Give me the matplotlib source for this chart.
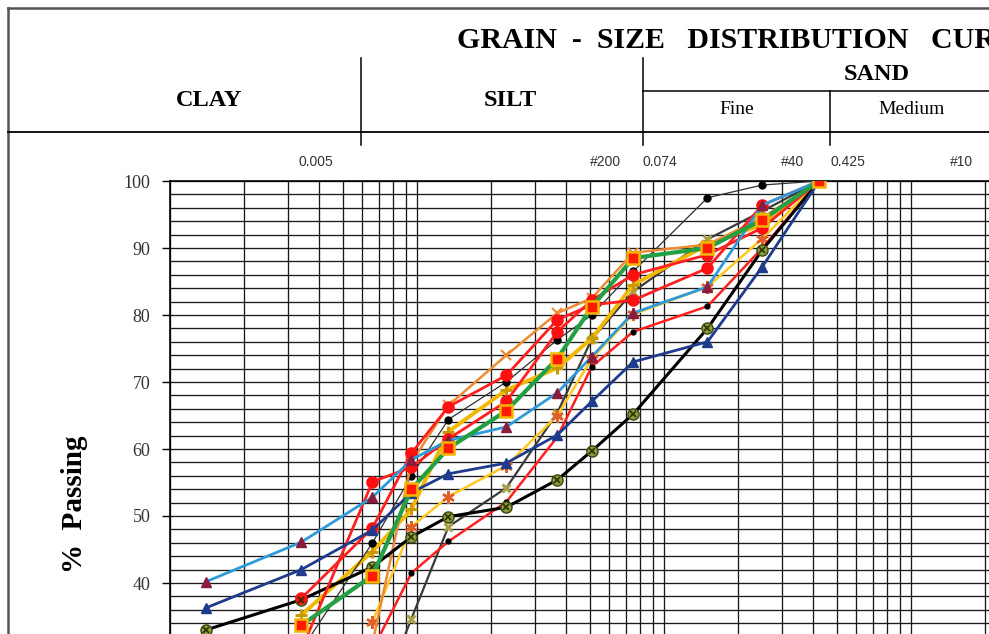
import numpy as np
import matplotlib.pyplot as plt
from matplotlib.ticker import MultipleLocator, LogLocator, NullFormatter
from matplotlib.lines import Line2D

# grain diameters (mm): hydrometer readings then sieves #200, #100, #60, #40
diam = [0.0014, 0.0034, 0.0066, 0.0095, 0.0134, 0.023, 0.037, 0.051, 0.075, 0.15, 0.25, 0.425]
nan = np.nan

# % passing for each sample (nan = no reading / off the chart)
pct_s1 = [40.2, 46.1, 52.8, 58.4, 61.3, 63.3, 68.4, 73.8, 80.3, 84.2, 96.4, 100]
pct_s2 = [36.3, 42.0, 47.9, 53.5, 56.3, 57.9, 62.1, 67.1, 73.0, 76.0, 87.2, 100]
pct_s3 = [33.0, 37.5, 42.4, 46.9, 49.9, 51.3, 55.4, 59.7, 65.2, 78.0, 89.7, 100]
pct_s4 = [nan, 33.7, 41.1, 54.0, 60.1, 65.7, 73.5, 81.2, 88.5, 90.0, 94.2, 100]
pct_s5 = [nan, nan, 31.0, 58.0, 66.5, 74.0, 80.3, 82.5, 89.3, 90.5, 94.5, 100]
pct_s6 = [nan, 37.7, 48.2, 59.4, 66.3, 71.0, 79.3, 81.5, 82.2, 87.0, 96.4, 100]
pct_s7 = [nan, 30.0, 55.1, 57.3, 61.5, 67.1, 77.5, 82.2, 86.0, 89.0, 93.0, 100]
pct_s8 = [nan, nan, 30.0, 41.5, 46.2, 52.1, 61.8, 72.3, 77.5, 81.3, 90.0, 100]
pct_s9 = [nan, 30.0, 46.0, 56.0, 64.4, 70.0, 76.3, 80.0, 86.5, 97.5, 99.4, 100]
pct_s10 = [nan, 35.2, 44.7, 51.0, 62.6, 68.8, 72.1, 76.5, 84.5, 90.5, 93.5, 100]
pct_s11 = [nan, nan, 34.2, 48.4, 52.9, 57.5, 65.0, 73.5, 80.1, 84.2, 91.4, 100]
pct_s12 = [nan, nan, 20.0, 34.7, 48.4, 54.2, 65.4, 76.4, 83.5, 91.3, 95.5, 100]

y_ticks = list(range(0, 101, 10))
y_labels = [str(v) if v >= 40 else '' for v in y_ticks]

W, H = 989, 634
fig = plt.figure(figsize=(W / 100, H / 100), dpi=100)

def fx(px):
    return px / W

def fy(py):
    return 1 - py / H

serif = 'Liberation Serif'
sans = 'Liberation Sans'

# axes extend past the bottom/right of the picture (the reference is a crop)
ax = fig.add_axes([fx(170), fy(851), 1235 / W, 670 / H])
ax.set_xscale('log')
ax.set_xlim(0.001, 100)
ax.set_ylim(0, 100)

ax.xaxis.set_major_locator(LogLocator(base=10))
ax.xaxis.set_minor_locator(LogLocator(base=10, subs=np.arange(2, 10)))
ax.xaxis.set_minor_formatter(NullFormatter())
ax.yaxis.set_minor_locator(MultipleLocator(2))
ax.grid(which='both', color='#1a1a1a', lw=0.95, zorder=0)
ax.set_axisbelow(True)
ax.tick_params(axis='x', which='both', length=0, labelbottom=False)
ax.tick_params(axis='y', which='major', length=6, width=1, direction='out', pad=8)
ax.tick_params(axis='y', which='minor', length=0)
ax.set_yticks(y_ticks)
ax.set_yticklabels(y_labels, family=serif, fontsize=13, color='#333333')
for sp in ax.spines.values():
    sp.set_color('black')
    sp.set_linewidth(1.2)

ax.set_ylabel('%  Passing', family=serif, fontsize=21, fontweight='bold', va='center')
ax.yaxis.set_label_coords(-(170 - 75) / 1235, (851 - 504) / 670)

maroon = '#8B1C3C'
gold = '#F2B800'

ax.plot(diam, pct_s3, color='black', lw=2.2, marker='o', ms=8, mfc='#8C9E3C', mec='#3A4410', zorder=5)
ax.plot(diam, pct_s3, ls='none', marker='x', ms=5, mec='#2A3000', mew=1.2, zorder=6)
ax.plot(diam, pct_s12, color='#3a3a3a', lw=1.6, marker='x', ms=6, mec='#A8A048', mew=2.2, zorder=4)
ax.plot(diam, pct_s10, color=gold, lw=2.8, marker='+', ms=9, mec='#C89A00', mew=2.2, zorder=4)
ax.plot(diam, pct_s11, color='#FFC820', lw=1.8, marker=(6, 2, 0), ms=9, mec='#E0602A', mew=1.8, zorder=4)
ax.plot(diam, pct_s8, color='#FF2020', lw=1.8, marker='o', ms=3.5, mfc='black', mec='black', zorder=4)
ax.plot(diam, pct_s9, color='#303030', lw=0.9, marker='o', ms=5, mfc='black', mec='black', zorder=4)
ax.plot(diam, pct_s5, color='#EE8A32', lw=1.8, marker='x', ms=7, mec='#EE8A32', mew=1.5, zorder=4)
ax.plot(diam, pct_s7, color='#FF2020', lw=2.0, marker='o', ms=8, mfc='#FF1010', mec='#FF1010', zorder=5)
ax.plot(diam, pct_s6, color='#FF2020', lw=2.0, marker='o', ms=8, mfc='#FF1010', mec='#FF1010', zorder=5)
ax.plot(diam, pct_s2, color='#1F3C8C', lw=2.0, marker='^', ms=7, mfc='#1F3C8C', mec='#1F3C8C', zorder=5)
ax.plot(diam, pct_s1, color='#2F9AD8', lw=2.0, marker='^', ms=7, mfc=maroon, mec=maroon, zorder=5)
ax.plot(diam, pct_s4, color='#22A043', lw=3.0, marker='s', ms=8, mfc='#FF1A00', mec='#F5B400', mew=1.8, zorder=6)

# --- header table ---
def hline(y, x0, x1, lw=1.1, color='black'):
    fig.add_artist(Line2D([fx(x0), fx(x1)], [fy(y), fy(y)], color=color, lw=lw))

def vline(x, y0, y1, lw=1.1, color='black'):
    fig.add_artist(Line2D([fx(x), fx(x)], [fy(y0), fy(y1)], color=color, lw=lw))

hline(8, 8, W, lw=1.8, color='#555555')
vline(8, 8, H, lw=1.8, color='#555555')
hline(132, 8, W, lw=1.3)
hline(91, 643, W)
vline(361, 58, 145)
vline(643, 58, 145)
vline(830, 91, 145)

# title runs off the right edge, as in the cropped original
fig.text(fx(457), fy(41), 'GRAIN  -  SIZE   DISTRIBUTION   CURVE', family=serif,
         fontsize=21.5, fontweight='bold', ha='left', va='center')
fig.text(fx(209), fy(101), 'CLAY', family=serif, fontsize=17.5, fontweight='bold', ha='center', va='center')
fig.text(fx(510), fy(101), 'SILT', family=serif, fontsize=17.5, fontweight='bold', ha='center', va='center')
fig.text(fx(877), fy(75), 'SAND', family=serif, fontsize=17.5, fontweight='bold', ha='center', va='center')
fig.text(fx(737), fy(109), 'Fine', family=serif, fontsize=14, ha='center', va='center')
fig.text(fx(912), fy(110), 'Medium', family=serif, fontsize=14, ha='center', va='center')

for lab, px in [('0.005', 316), ('#200', 606), ('0.074', 660), ('#40', 793), ('0.425', 848), ('#10', 962)]:
    fig.text(fx(px), fy(162), lab, family=sans, fontsize=10, color='#333333', ha='center', va='center')

fig.savefig('out.png', dpi=100)
